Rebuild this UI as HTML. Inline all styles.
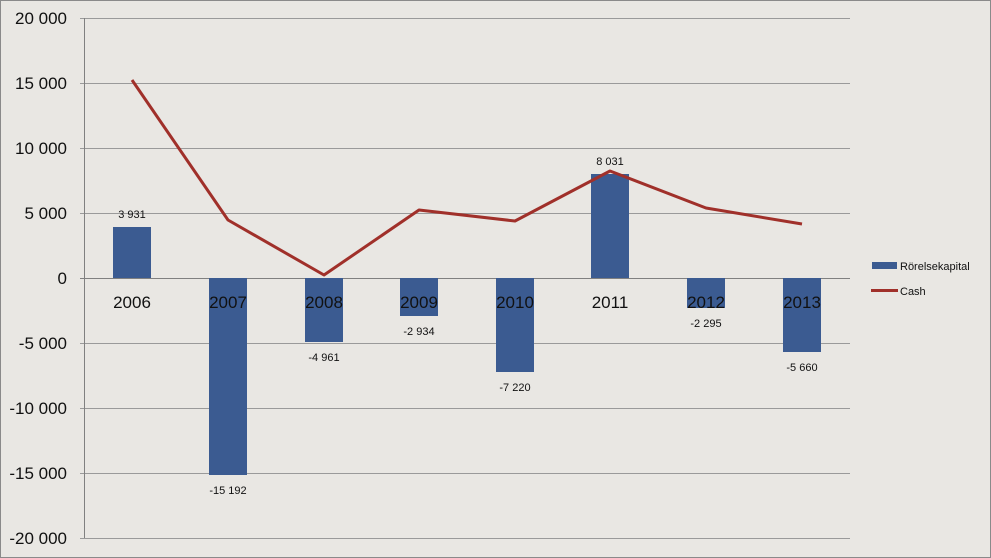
<!DOCTYPE html>
<html><head><meta charset="utf-8"><style>
html,body{margin:0;padding:0;background:#e8e6e2;}
svg{display:block;font-family:"Liberation Sans",sans-serif;}
</style></head><body>
<svg width="991" height="558" viewBox="0 0 991 558" xmlns="http://www.w3.org/2000/svg">
<rect x="0.5" y="0.5" width="990" height="557" fill="#e9e7e3" stroke="#8a8a8a"/>
<g stroke="#9a9a9a" stroke-width="1">
<line x1="80" y1="18.5" x2="850" y2="18.5"/>
<line x1="80" y1="83.5" x2="850" y2="83.5"/>
<line x1="80" y1="148.5" x2="850" y2="148.5"/>
<line x1="80" y1="213.5" x2="850" y2="213.5"/>
<line x1="80" y1="343.5" x2="850" y2="343.5"/>
<line x1="80" y1="408.5" x2="850" y2="408.5"/>
<line x1="80" y1="473.5" x2="850" y2="473.5"/>
<line x1="80" y1="538.5" x2="850" y2="538.5"/>
<line x1="84.5" y1="18" x2="84.5" y2="538" stroke="#808080"/>
<line x1="80" y1="278.5" x2="850" y2="278.5" stroke="#808080"/>
</g>
<g font-size="17" fill="#111" text-anchor="end">
<text x="67" y="24">20 000</text>
<text x="67" y="89">15 000</text>
<text x="67" y="154">10 000</text>
<text x="67" y="219">5 000</text>
<text x="67" y="284">0</text>
<text x="67" y="349">-5 000</text>
<text x="67" y="414">-10 000</text>
<text x="67" y="479">-15 000</text>
<text x="67" y="544">-20 000</text>
</g>
<g fill="#3b5b91">
<rect x="113" y="227" width="38" height="51"/>
<rect x="209" y="278" width="38" height="197"/>
<rect x="305" y="278" width="38" height="64"/>
<rect x="400" y="278" width="38" height="38"/>
<rect x="496" y="278" width="38" height="94"/>
<rect x="591" y="174" width="38" height="104"/>
<rect x="687" y="278" width="38" height="30"/>
<rect x="783" y="278" width="38" height="74"/>
</g>
<g font-size="17" fill="#111" text-anchor="middle">
<text x="132" y="308">2006</text><text x="228" y="308">2007</text><text x="324" y="308">2008</text><text x="419" y="308">2009</text>
<text x="515" y="308">2010</text><text x="610" y="308">2011</text><text x="706" y="308">2012</text><text x="802" y="308">2013</text>
</g>
<g font-size="11" fill="#111" text-anchor="middle">
<text x="132" y="218">3 931</text><text x="228" y="494">-15 192</text><text x="324" y="361">-4 961</text><text x="419" y="335">-2 934</text>
<text x="515" y="391">-7 220</text><text x="610" y="165">8 031</text><text x="706" y="327">-2 295</text><text x="802" y="371">-5 660</text>
</g>
<polyline fill="none" stroke="#a0302a" stroke-width="3" stroke-linejoin="round" points="132,80 228,220 324,275 419,210 515,221 610,171 706,208 802,224"/>
<rect x="872" y="262" width="25" height="7" fill="#3b5b91"/>
<line x1="871" y1="290.5" x2="898" y2="290.5" stroke="#a0302a" stroke-width="3"/>
<g font-size="11" fill="#111"><text x="900" y="270">Rörelsekapital</text><text x="900" y="295">Cash</text></g>
</svg>
</body></html>
